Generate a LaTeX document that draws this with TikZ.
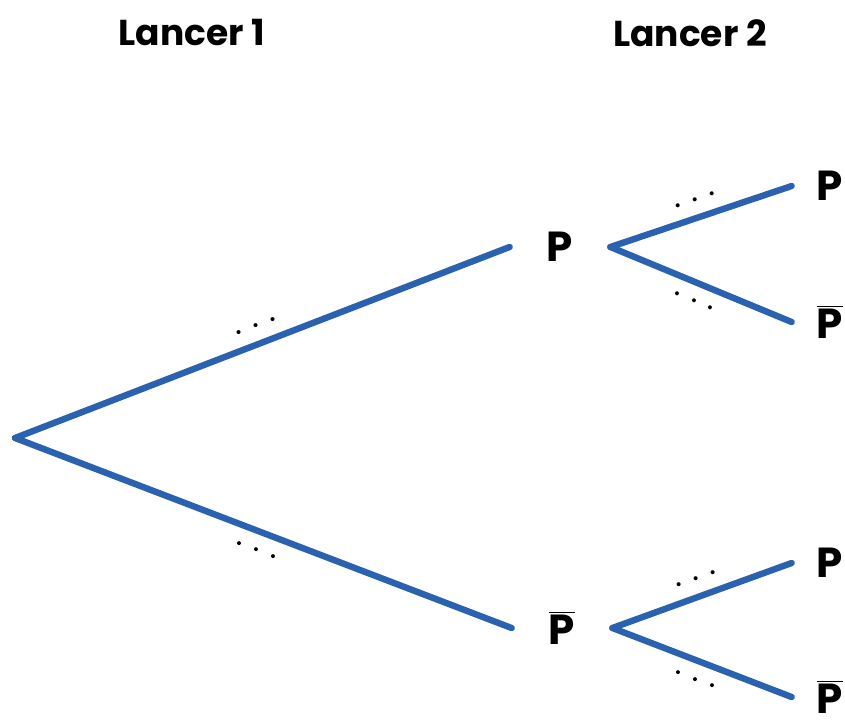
\documentclass[tikz,border=0pt]{standalone}
\usepackage{fontspec}
\setmainfont{Poppins}
\usetikzlibrary{positioning}

\definecolor{branchblue}{RGB}{43,98,176}
\newcommand{\Pbar}{$\overline{\hbox{P}}$}

\tikzset{
  branch/.style={line width=3.2pt, branchblue, line cap=round},
  event/.style={font=\fontsize{21}{24}\selectfont\bfseries, minimum width=50pt, inner sep=0pt},
  leaf/.style={font=\fontsize{21}{24}\selectfont\bfseries, minimum width=38pt, inner sep=0pt},
  title/.style={font=\fontsize{18}{22}\selectfont\bfseries},
  prob/.style={font=\fontsize{22}{24}\selectfont, text=black, sloped, pos=0.5}
}

\begin{document}
\begin{tikzpicture}[x=0.5pt,y=0.5pt]
\useasboundingbox (0,0) rectangle (845,724);

% Titles
\node[title] (t1) at (192,691) {Lancer 1};
\node[title] (t2) at (690,691) {Lancer 2};

% Root and first level
\coordinate (root) at (15,286);
\node[event] (p) at (560,477) {P};
\node[event] (pb) at (562,96) {\Pbar};

% Second level
\node[leaf] (pp) at (830,538) {P};
\node[leaf] (ppb) at (830,402) {\Pbar};
\node[leaf] (pbp) at (830,161) {P};
\node[leaf] (pbpb) at (830,27) {\Pbar};

% Draw branches
\draw[branch] (root) -- (p.west) node[prob, above=3pt] {$\ldots$};
\draw[branch] (root) -- (pb.west) node[prob, below=3pt] {$\ldots$};
\draw[branch] (p.east) -- (pp.west) node[prob, above=3pt] {$\ldots$};
\draw[branch] (p.east) -- (ppb.west) node[prob, below=3pt] {$\ldots$};
\draw[branch] (pb.east) -- (pbp.west) node[prob, above=3pt] {$\ldots$};
\draw[branch] (pb.east) -- (pbpb.west) node[prob, below=3pt] {$\ldots$};
\end{tikzpicture}
\end{document}
